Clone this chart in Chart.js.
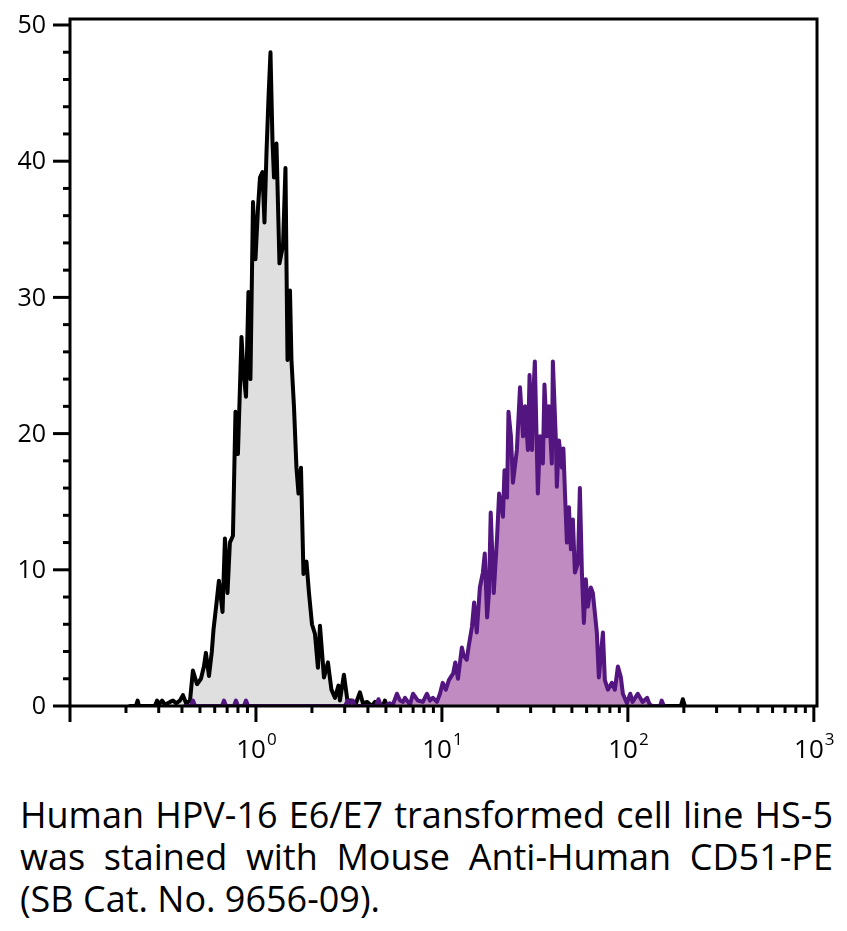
<!DOCTYPE html>
<html>
<head>
<meta charset="utf-8">
<script src="https://cdn.jsdelivr.net/npm/chart.js@4.4.1/dist/chart.umd.min.js"></script>
<style>
  body { margin: 0; background: #fff; width: 847px; height: 931px; overflow: hidden; position: relative; font-family: 'Open Sans', sans-serif; }
  #wrap { position: absolute; left: 0; top: 0; width: 847px; height: 770px; }
  #caption { position: absolute; left: 20px; top: 794px; width: 813px; font-size: 36px; line-height: 42px; color: #000; }
  .j { text-align: justify; text-align-last: justify; }
</style>
</head>
<body>
<div id="wrap"><canvas id="hist"></canvas></div>
<div id="caption">
  <div class="j">Human HPV-16 E6/E7 transformed cell line HS-5</div>
  <div class="j">was stained with Mouse Anti-Human CD51-PE</div>
  <div>(SB Cat. No. 9656-09).</div>
</div>
<script>
// ── Data ──────────────────────────────────────────────────
// Unstained / control histogram (grey)
const controlX = [
  0.210, 0.226, 0.231, 0.235, 0.286, 0.294, 0.301, 0.313, 0.324, 0.345,
  0.358, 0.372, 0.390, 0.405, 0.421, 0.442, 0.458, 0.482, 0.506, 0.525,
  0.538, 0.559, 0.579, 0.591, 0.613, 0.632, 0.661, 0.681, 0.703, 0.724,
  0.752, 0.776, 0.800, 0.836, 0.857, 0.884, 0.911, 0.934, 0.964, 0.994,
  1.025, 1.051, 1.084, 1.111, 1.139, 1.167, 1.197, 1.227, 1.250, 1.289,
  1.338, 1.398, 1.441, 1.478, 1.524, 1.552, 1.601, 1.651, 1.693, 1.746,
  1.801, 1.869, 1.928, 2.001, 2.076, 2.154, 2.209, 2.321, 2.438, 2.546,
  2.659, 2.777, 2.829, 2.972, 3.103, 3.261, 3.406, 3.623, 3.761, 3.952,
  4.205, 4.364, 4.529, 4.817, 4.938, 5.061, 192.7, 197.6, 202.5
];
const controlY = [
  0, 0, 0.4, 0, 0, 0.4, 0.1, 0.4, 0.1, 0.3,
  0.4, 0.2, 0.4, 0.8, 0.2, 0.4, 2.6, 1.6, 2.0, 2.9,
  3.9, 2.2, 4.0, 5.6, 7.5, 9.2, 6.9, 12.3, 8.3, 12.0,
  12.5, 21.6, 18.5, 27.1, 24.5, 22.7, 30.4, 24.0, 37.0, 32.8,
  36.5, 38.8, 39.2, 35.5, 40.6, 44.5, 48.0, 41.5, 38.8, 41.3,
  32.5, 33.8, 39.5, 25.4, 30.5, 25.4, 22.0, 17.5, 15.6, 17.5,
  9.7, 10.6, 8.3, 6.0, 5.3, 2.8, 5.9, 2.1, 3.2, 1.2,
  0.6, 1.5, 0.4, 2.3, 0.4, 0.4, 0, 1.0, 0.2, 0.3,
  0, 0.3, 0, 0, 0.4, 0, 0, 0.5, 0
];

// CD51-PE stained histogram (purple)
const stainedX = [
  0.415, 0.447, 0.459, 0.470, 0.657, 0.673, 0.690, 0.762, 0.781, 0.800,
  0.862, 0.884, 0.906, 3.01, 3.12, 3.20, 3.32, 3.41, 4.42, 4.56,
  4.70, 4.94, 5.25, 5.45, 5.73, 5.95, 6.17, 6.33, 6.73, 6.99,
  7.43, 7.90, 8.31, 8.62, 8.95, 9.40, 9.76, 10.1, 10.5, 10.9,
  11.5, 11.8, 12.2, 12.8, 13.1, 13.6, 13.9, 14.5, 14.9, 15.4,
  16.0, 16.6, 17.0, 17.5, 17.9, 18.3, 19.0, 19.8, 20.3, 21.3,
  21.7, 22.4, 22.8, 23.5, 24.1, 25.3, 26.3, 27.3, 28.0, 29.0,
  29.6, 30.5, 31.0, 31.6, 32.8, 33.7, 34.9, 35.6, 36.7, 37.6,
  39.0, 39.5, 41.0, 41.5, 42.6, 44.2, 45.0, 45.9, 47.0, 48.2,
  49.4, 50.6, 51.9, 53.9, 55.2, 56.6, 58.0, 59.4, 60.9, 63.2,
  64.8, 68.1, 69.8, 73.4, 75.2, 78.1, 82.0, 85.1, 88.4, 91.7,
  94.0, 98.8, 103, 106, 113, 120, 127, 131, 136, 149,
  152, 156
];
const stainedY = [
  0, 0, 0.4, 0, 0, 0.4, 0, 0, 0.4, 0,
  0, 0.4, 0, 0, 0.4, 0.2, 0.4, 0, 0, 0.5,
  0, 0, 0.2, 0.1, 0.9, 0.4, 0.3, 0.6, 0.1, 0.9,
  0.4, 0.3, 0.9, 0.4, 0.6, 0.3, 0.9, 1.7, 1.2, 1.9,
  2.4, 3.2, 2.0, 4.3, 3.7, 3.4, 4.3, 5.8, 7.6, 5.4,
  8.7, 9.8, 11.2, 6.5, 8.3, 14.2, 8.3, 12.4, 15.6, 13.9,
  17.3, 15.3, 21.6, 19.8, 16.4, 18.8, 23.4, 19.8, 22.0, 18.8,
  24.3, 18.8, 22.7, 25.3, 15.6, 19.8, 17.8, 23.6, 19.8, 22.0,
  17.8, 25.3, 19.5, 16.1, 19.5, 17.5, 18.9, 15.6, 12.0, 14.6,
  11.5, 13.7, 9.8, 10.5, 16.0, 9.8, 6.1, 9.3, 7.3, 8.7,
  8.3, 5.4, 2.1, 5.4, 1.9, 1.2, 1.7, 1.2, 2.9, 2.1,
  0.9, 0.2, 0.9, 0.3, 0.9, 0.3, 0.6, 0.1, 0, 0,
  0.4, 0
];

// ── Axis ticks ────────────────────────────────────────────
const yMajorTicks = [0, 10, 20, 30, 40, 50];
const yMinorTicks = [2, 4, 6, 8, 12, 14, 16, 18, 22, 24, 26, 28, 32, 34, 36, 38, 42, 44, 46, 48];
const xDecades    = [0.1, 1, 10, 100, 1000];
const xDecadeExp  = ['', '0', '1', '2', '3'];
const xMinorSteps = [2, 3, 4, 5, 6, 7, 8, 9];

const FONT = "'Open Sans', sans-serif";

const axesPlugin = {
  id: 'axes',
  afterDatasetsDraw(chart) {
    const { ctx, chartArea: a, scales: { x, y } } = chart;
    ctx.save();
    ctx.strokeStyle = '#000';
    ctx.lineWidth = 3;
    ctx.lineCap = 'butt';
    ctx.strokeRect(a.left, a.top, a.right - a.left, a.bottom - a.top);

    const tick = (x0, y0, x1, y1) => {
      ctx.beginPath(); ctx.moveTo(x0, y0); ctx.lineTo(x1, y1); ctx.stroke();
    };

    // y ticks + labels
    ctx.fillStyle = '#000';
    ctx.font = `25px ${FONT}`;
    ctx.textAlign = 'right';
    ctx.textBaseline = 'middle';
    yMinorTicks.forEach(v => {
      const py = y.getPixelForValue(v);
      tick(a.left - 7, py, a.left, py);
    });
    yMajorTicks.forEach(v => {
      const py = y.getPixelForValue(v);
      tick(a.left - 17, py, a.left, py);
      ctx.fillText(String(v), a.left - 24, py + 1);
    });

    // x ticks + labels (log decades)
    xDecades.forEach((d, i) => {
      const px = x.getPixelForValue(d);
      tick(px, a.bottom, px, a.bottom + 16);
      if (i < xDecades.length - 1) {
        xMinorSteps.forEach(m => {
          const pm = x.getPixelForValue(d * m);
          tick(pm, a.bottom, pm, a.bottom + 7);
        });
      }
      if (xDecadeExp[i]) {
        ctx.textBaseline = 'alphabetic';
        ctx.textAlign = 'left';
        ctx.font = `26px ${FONT}`;
        const wBase = ctx.measureText('10').width;
        ctx.font = `17px ${FONT}`;
        const wExp = ctx.measureText(xDecadeExp[i]).width;
        const x0 = px - (wBase + wExp) / 2;
        ctx.font = `26px ${FONT}`;
        ctx.fillText('10', x0, a.bottom + 52);
        ctx.font = `17px ${FONT}`;
        ctx.fillText(xDecadeExp[i], x0 + wBase + 1, a.bottom + 39);
      }
    });
    ctx.restore();
  }
};

const toPoints = (xs, ys) => xs.map((v, i) => ({ x: v, y: ys[i] }));

new Chart(document.getElementById('hist'), {
  type: 'line',
  data: {
    datasets: [
      {
        label: 'CD51-PE',
        data: toPoints(stainedX, stainedY),
        borderColor: '#53157f',
        backgroundColor: '#c08bc1',
        borderWidth: 4,
        borderJoinStyle: 'round',
        borderCapStyle: 'round',
        pointRadius: 0,
        tension: 0,
        fill: 'origin',
      },
      {
        label: 'Control',
        data: toPoints(controlX, controlY),
        borderColor: '#000',
        backgroundColor: '#dfdfdf',
        borderWidth: 4,
        borderJoinStyle: 'round',
        borderCapStyle: 'round',
        pointRadius: 0,
        tension: 0,
        fill: 'origin',
      },
    ],
  },
  options: {
    responsive: true,
    maintainAspectRatio: false,
    animation: false,
    events: [],
    layout: { padding: { left: 70, top: 19, right: 30, bottom: 64 } },
    plugins: { legend: { display: false }, tooltip: { enabled: false } },
    scales: {
      x: { type: 'logarithmic', min: 0.1, max: 1040, display: false },
      y: { type: 'linear', min: 0, max: 50.44, display: false },
    },
  },
  plugins: [axesPlugin],
});
</script>
</body>
</html>
